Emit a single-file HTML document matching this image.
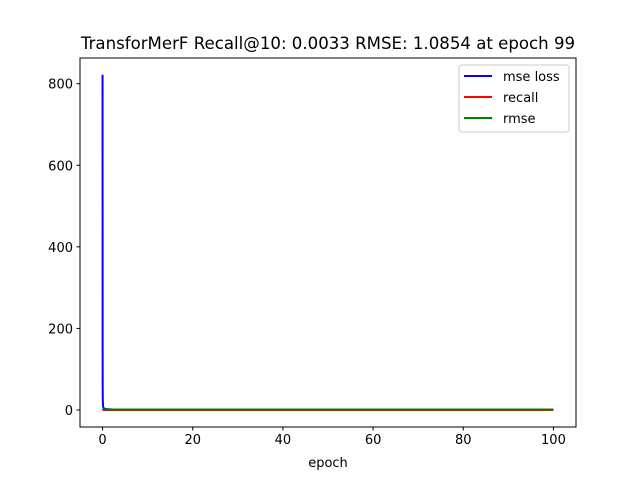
<!DOCTYPE html>
<html><head><meta charset="utf-8"><style>
body{margin:0;background:#fff}
svg{font-family:"DejaVu Sans","Liberation Sans",sans-serif}
</style></head><body>
<svg id="c" width="640" height="480"></svg>
<script>
const epochs=[0,0.01,0.02,0.03,0.05,0.1,0.2,0.5,1,2,5,10,20,40,60,80,100];
const mseLoss=[822,500,150,60,30,10,5,3,2,1.5,1.3,1.2,1.2,1.18,1.18,1.18,1.18];
const recall=[0.002,0.002,0.002,0.002,0.002,0.002,0.002,0.003,0.003,0.003,0.003,0.003,0.003,0.003,0.003,0.003,0.0033];
const rmse=[3,3,2.8,2.6,2.4,2.2,2,1.6,1.3,1.2,1.15,1.1,1.1,1.09,1.09,1.09,1.0854];
const xTicks=[0,20,40,60,80,100];
const yTicks=[0,200,400,600,800];
const L=80,R=576,T=58,B=427,xmin=-5,xmax=105,ymin=-41.7,ymax=863;
const X=v=>L+(v-xmin)/(xmax-xmin)*(R-L);
const Y=v=>B-(v-ymin)/(ymax-ymin)*(B-T);
const s=document.getElementById('c');const NS='http://www.w3.org/2000/svg';
function mk(t,a,p){const e=document.createElementNS(NS,t);for(const k in a)e.setAttribute(k,a[k]);(p||s).appendChild(e);return e;}
const title=mk('text',{x:328,y:49,'text-anchor':'middle','font-size':16.6});title.textContent='TransforMerF Recall@10: 0.0033 RMSE: 1.0854 at epoch 99';


xTicks.forEach(v=>{const g=mk('g',{});


mk('line',{x1:X(v),x2:X(v),y1:B,y2:B+3.5,stroke:'#000'},g);
const t=mk('text',{x:X(v),y:B+17,'text-anchor':'middle','font-size':13},g);t.textContent=v;});
yTicks.forEach(v=>{const g=mk('g',{});


mk('line',{x1:L-3.5,x2:L,y1:Y(v),y2:Y(v),stroke:'#000'},g);
const t=mk('text',{x:L-7,y:Y(v)+5,'text-anchor':'end','font-size':13},g);t.textContent=v;});
const xl=mk('text',{x:328,y:467,'text-anchor':'middle','font-size':13});xl.textContent='epoch';


function line(arr,color,name){const p=mk('polyline',{points:epochs.map((e,i)=>X(e)+','+Y(arr[i])).join(' '),fill:'none',stroke:color,'stroke-width':2});

}
line(mseLoss,'#0000ff','mse-loss-line');line(recall,'#ff0000','recall-line');line(rmse,'#008000','rmse-line');
const fr=mk('rect',{x:L,y:T,width:R-L,height:B-T,fill:'none',stroke:'#000','stroke-width':1});


const lg=mk('g',{});


mk('rect',{x:459,y:65,width:110,height:67,fill:'#fff',stroke:'#ccc',rx:3},lg);
[['mse loss','#0000ff'],['recall','#ff0000'],['rmse','#008000']].forEach((d,i)=>{const y=76+i*21;
const g=mk('g',{},lg);


mk('line',{x1:464,x2:492,y1:y,y2:y,stroke:d[1],'stroke-width':2},g);
const t=mk('text',{x:503,y:y+5,'font-size':13},g);t.textContent=d[0];});
</script></body></html>
